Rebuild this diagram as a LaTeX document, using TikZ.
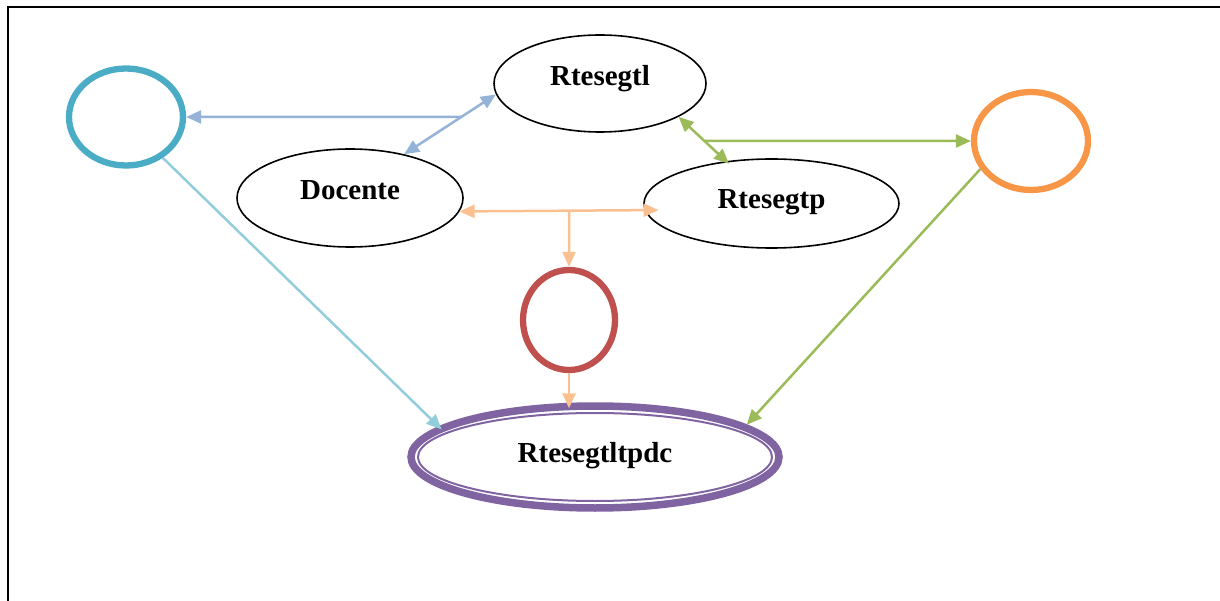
\documentclass[tikz,border=0pt]{standalone}
\usepackage{fontspec}
\setmainfont{Liberation Serif}
\usetikzlibrary{arrows.meta,calc,shapes.geometric}
\definecolor{ringteal}{HTML}{4BACC6}
\definecolor{ringorange}{HTML}{F79646}
\definecolor{ringred}{HTML}{C0504D}
\definecolor{ringpurple}{HTML}{8064A2}
\definecolor{lnblue}{HTML}{95B3D7}
\definecolor{lngreen}{HTML}{9BBB59}
\definecolor{lnpeach}{HTML}{FAC090}
\definecolor{lnteal}{HTML}{92CDDC}

\begin{document}
\begin{tikzpicture}[x=1pt,y=-1pt,
ent/.style={ellipse,draw,line width=1.6pt,inner sep=0pt,font=\fontsize{29}{34}\selectfont\bfseries,text height=20pt,text depth=16pt},
ring/.style={ellipse,draw,line width=6.3pt,inner sep=0pt},
>={Triangle[length=15pt,width=13pt]}]
\useasboundingbox (0,0) rectangle (1220,601);
\draw[line width=1.7pt] (1220,7) -- (8,7) -- (8,601);

\node[ring,draw=ringteal,minimum width=114pt,minimum height=97pt] (teal) at (126,117) {};
\node[ring,draw=ringorange,minimum width=114pt,minimum height=98pt] (orng) at (1031,141) {};
\node[ring,draw=ringred,minimum width=92pt,minimum height=100pt] (red) at (569,320) {};
\node[ent,minimum width=212pt,minimum height=97pt] (tl) at (600,83.5) {Rtesegtl};
\node[ent,minimum width=226pt,minimum height=98pt] (doc) at (350,198) {Docente};
\node[ent,text depth=10pt,minimum width=255pt,minimum height=89pt] (tp) at (771.5,203.5) {Rtesegtp};
\node[ent,text depth=10pt,draw=ringpurple,line width=7.5pt,minimum width=368pt,minimum height=102pt] (pur) at (595,457) {Rtesegtltpdc};
\draw[ringpurple,line width=2pt] (pur.center) ellipse [x radius=177pt,y radius=44pt];

\coordinate (bj) at (intersection of tl.186--doc.39 and teal.west--teal.east);
\coordinate (gj) at (intersection of tl.337--tp.137 and orng.west--orng.east);
\coordinate (pj) at (intersection of doc.353--tp.183 and red.north--red.south);

\path[line width=2.5pt]
(tl.186) edge[<->,lnblue] (doc.39)
(bj) edge[->,lnblue] (teal)
(tl.337) edge[<->,lngreen,shorten >=-4pt] (tp.137)
(gj) edge[->,lngreen] (orng)
(orng.209) edge[->,lngreen] (pur.12)
(teal.312) edge[->,lnteal,shorten >=-4pt] (pur.169)
(doc.353) edge[<->,lnpeach,shorten >=-14pt] (tp.183)
(pj) edge[->,lnpeach] (red)
(red.south) edge[->,lnpeach,shorten >=-6pt] (red.south |- pur.north);
\end{tikzpicture}
\end{document}
